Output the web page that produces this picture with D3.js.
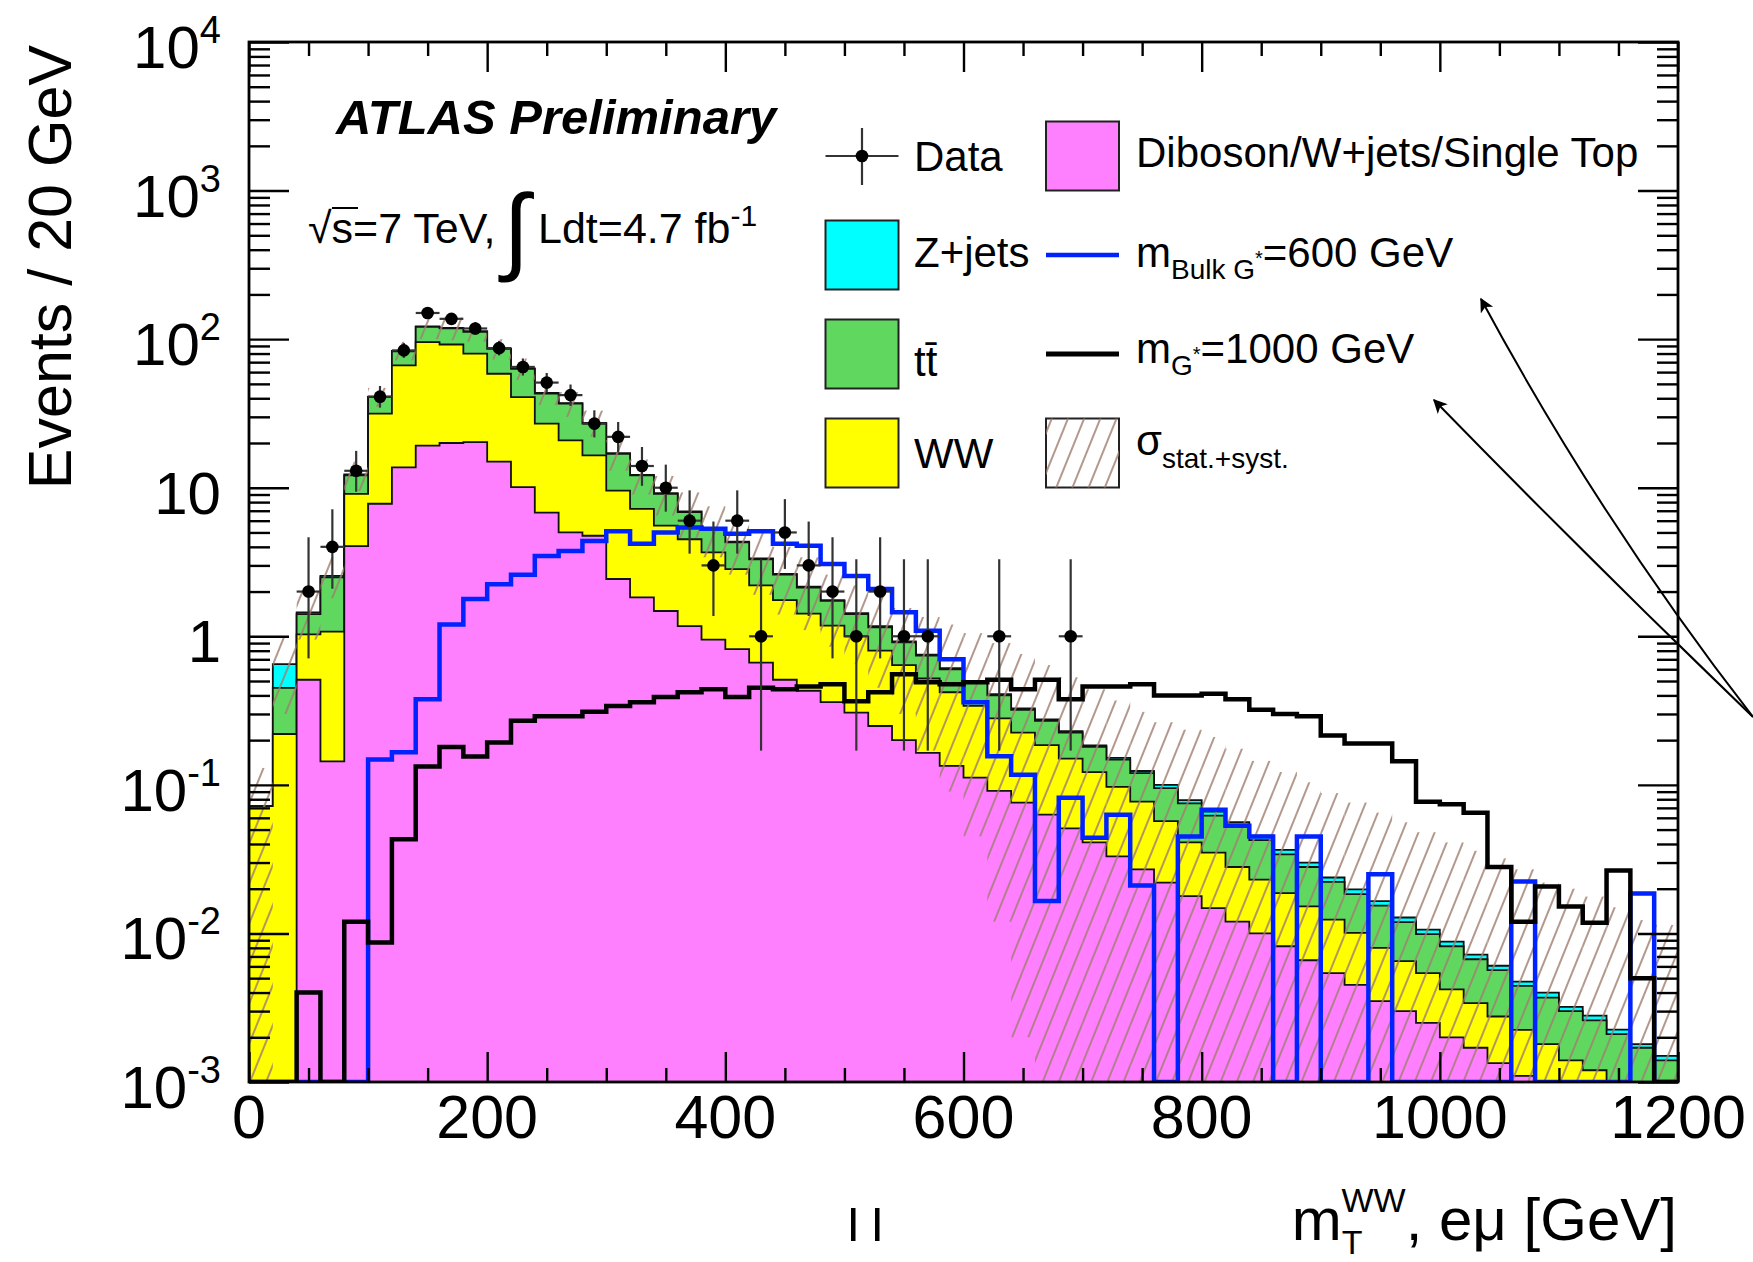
<!DOCTYPE html>
<html><head><meta charset="utf-8">
<script src="https://cdn.jsdelivr.net/npm/d3@7"></script>
<style>
body{margin:0;background:#fff}
svg{display:block}
text{font-family:"Liberation Sans",Arial,Helvetica,sans-serif;fill:#000}
</style>
</head><body>
<svg id="c" width="1753" height="1262"></svg>
<script>
// ---------------- data (20 GeV bins, 0-1200 GeV) ----------------
const binLow = d3.range(0, 1200, 20);
const diboson = [0,0,0.51,0.144,4.05,7.8,13.7,19.2,20,20.3,
  15,10.1,6.8,5.0,4.75,2.43,1.83,1.48,1.17,0.95,
  0.82,0.665,0.51,0.43,0.36,0.306,0.249,0.20,0.164,0.134,
  0.112,0.091,0.076,0.063,0.051,0.041,0.033,0.027,0.022,0.0178,
  0.0148,0.012,0.010,0.0082,0.0066,0.0054,0.0045,0.0035,0.0030,0.0025,
  0.0020,0.0017,0.00134,0.0011,0.0009,0.0007,0.0006,0.0005,0.0004,0.0003];
const ww = [0.072,0.22,0.52,0.93,5.05,23.7,52.9,76.3,72,59.7,
  43.5,30.6,20.2,15.8,11.75,7.12,5.37,4.08,3.33,2.72,
  2.01,1.535,1.24,0.99,0.82,0.694,0.551,0.44,0.356,0.286,
  0.228,0.189,0.149,0.122,0.099,0.081,0.064,0.050,0.035,0.0232,
  0.0202,0.016,0.013,0.0105,0.0086,0.0070,0.0056,0.0045,0.0035,0.0029,
  0.0022,0.0017,0.00142,0.00114,0.0009,0.0007,0.0006,0.0004,0.0003,0.0003];
const ttbar = [0,0.23,0.38,1.42,3.0,9.2,16.2,25.5,26,32,
  27.5,22.3,16,16,10.5,7.35,4.9,3.54,2.35,1.63,
  1.46,1.1,0.85,0.71,0.55,0.41,0.35,0.27,0.22,0.18,
  0.15,0.12,0.095,0.085,0.075,0.058,0.051,0.043,0.038,0.034,
  0.027,0.0245,0.0195,0.0153,0.0128,0.0098,0.0083,0.0074,0.0054,0.0045,
  0.0040,0.0033,0.0029,0.0022,0.0019,0.0016,0.0014,0.0012,0.0010,0.0008];
const zjets = [0,0.20,0.04,0.06,0.2,0.3,0.7,1.0,1.0,1.0,
  0.8,0.5,0.4,0.3,0.3,0.2,0.1,0.1,0.07,0.06,
  0.05,0.04,0.03,0.03,0.02,0.02,0.02,0.015,0.012,0.01,
  0.01,0.008,0.007,0.006,0.005,0.004,0.004,0.004,0.005,0.004,
  0.004,0.0035,0.003,0.0025,0.002,0.0016,0.0014,0.0011,0.0009,0.0007,
  0.0006,0.0005,0.0004,0.0003,0.0003,0.0002,0.0002,0.00015,0.0001,0.0001];
const bandLo = [0,0.3,0.95,1.8,9.5,35,72,100,98,96,
  73,53,36,30,22,13,9,6.5,4.6,3.4,
  2.6,1.9,1.4,1.1,0.85,0.65,0.45,0.3,0.17,0.09,
  0.045,0.012,0.002,0,0,0,0,0,0,0,
  0,0,0,0,0,0,0,0,0,0,
  0,0,0,0,0,0,0,0,0,0];
const bandHi = [0.13,1.0,2.0,3.4,15,47,96,145,140,130,
  100,74,51,44,33,21,15.5,12,9.3,7.5,
  6.2,5.0,4.0,3.4,2.6,2.2,1.85,1.55,1.35,1.2,
  1.05,0.9,0.76,0.64,0.53,0.44,0.37,0.31,0.264,0.235,
  0.21,0.175,0.145,0.122,0.104,0.088,0.076,0.065,0.056,0.048,
  0.041,0.036,0.032,0.027,0.022,0.020,0.0177,0.015,0.0123,0.0114];
const dataN = [0,0,2,4,13,41,84,150,137,118,
  87,65,51,42,27,22,14,10,6,3,
  6,1,5,3,2,1,2,1,1,0,
  0,1,0,0,1,0,0,0,0,0,
  0,0,0,0,0,0,0,0,0,0,
  0,0,0,0,0,0,0,0,0,0];
const dataLo = [0,0,0.71,2.09,9.4,34.6,74.8,137.8,125.3,107.1,
  77.7,56.9,43.9,35.5,21.8,17.3,10.3,6.9,3.6,1.37,
  3.6,0.17,2.84,1.37,0.71,0.17,0.71,0.17,0.17,0,
  0,0.17,0,0,0.17,0,0,0,0,0,
  0,0,0,0,0,0,0,0,0,0,
  0,0,0,0,0,0,0,0,0,0];
const dataHi = [0,0,4.64,7.16,17.7,48.4,94.2,163.3,149.7,129.9,
  97.4,74.1,59.2,49.5,33.2,27.7,18.8,14.3,9.6,5.92,
  9.6,3.3,8.38,5.92,4.64,3.3,4.64,3.3,3.3,0,
  0,3.3,0,0,3.3,0,0,0,0,0,
  0,0,0,0,0,0,0,0,0,0,
  0,0,0,0,0,0,0,0,0,0];
const bulk600 = [0,0,0,0,0,0.148,0.166,0.377,1.2,1.78,
  2.24,2.6,3.47,3.75,4.38,5.1,4.2,5.0,5.4,5.3,
  4.9,5.1,4.2,4.07,3.06,2.55,2.08,1.45,1.09,0.70,
  0.36,0.156,0.117,0.0165,0.082,0.044,0.063,0.021,0,0.045,
  0.068,0.053,0.045,0,0.045,0,0,0.025,0,0,
  0,0,0,0.0224,0,0,0,0,0.0186,0];
const gstar1000 = [0,0,0.004,0,0.012,0.0087,0.043,0.133,0.18,0.155,
  0.193,0.27,0.29,0.29,0.31,0.34,0.36,0.39,0.42,0.44,
  0.39,0.45,0.44,0.46,0.475,0.365,0.42,0.555,0.49,0.475,
  0.49,0.51,0.44,0.51,0.377,0.46,0.46,0.475,0.40,0.40,
  0.41,0.377,0.32,0.30,0.29,0.215,0.19,0.19,0.144,0.077,
  0.074,0.065,0.028,0.012,0.0207,0.0152,0.0118,0.0265,0.005,0];
const xTickMajor = [0,200,400,600,800,1000,1200];
const yTickMajor = [1e-3,1e-2,1e-1,1,10,1e2,1e3,1e4];
const yTickLabel = [["10","-3"],["10","-2"],["10","-1"],["1",""],["10",""],["10","2"],["10","3"],["10","4"]];

// ---------------- drawing ----------------
const svg = d3.select("#c");
svg.append("rect").attr("width",1753).attr("height",1262).attr("fill","#fff");
const PL=249, PR=1678, PT=42, PB=1082;
const x = d3.scaleLinear().domain([0,1200]).range([PL,PR]);
const y = d3.scaleLog().domain([1e-3,1e4]).range([PB,PT]);
const yv = v => v > 1e-3 ? y(Math.min(v,1e4)) : PB;

const defs = svg.append("defs");
defs.append("clipPath").attr("id","plot").append("rect")
  .attr("x",PL).attr("y",PT).attr("width",PR-PL).attr("height",PB-PT);
const hp = defs.append("pattern").attr("id","hatch").attr("patternUnits","userSpaceOnUse")
  .attr("width",15).attr("height",15).attr("patternTransform","rotate(22)");
hp.append("line").attr("x1",7).attr("y1",-2).attr("x2",7).attr("y2",17)
  .attr("stroke","#a07e70").attr("stroke-width",1.6);

const cum1 = diboson.slice();
const cum2 = cum1.map((v,i)=>v+ww[i]);
const cum3 = cum2.map((v,i)=>v+ttbar[i]);
const cum4 = cum3.map((v,i)=>v+zjets[i]);

function steps(vals){
  const pts=[];
  vals.forEach((v,i)=>{pts.push([binLow[i],v]);pts.push([binLow[i]+20,v]);});
  return pts;
}
const area = d3.area().x(d=>x(d[0])).y0(PB).y1(d=>yv(d[1]));
const line = d3.line().x(d=>x(d[0])).y(d=>yv(d[1]));

const g = svg.append("g").attr("clip-path","url(#plot)");
[[cum4,"#00ffff"],[cum3,"#60d860"],[cum2,"#ffff00"],[cum1,"#ff80ff"]].forEach(([vals,col])=>{
  g.append("path").attr("d",area(steps(vals))).attr("fill",col)
   .attr("stroke","#111").attr("stroke-width",1.8).attr("stroke-linejoin","miter");
});
// uncertainty band
g.selectAll("rect.band").data(binLow).enter().append("rect")
  .attr("x",d=>x(d)).attr("width",x(20)-x(0))
  .attr("y",(d,i)=>yv(bandHi[i]))
  .attr("height",(d,i)=>Math.max(0,yv(bandLo[i])-yv(bandHi[i])))
  .attr("fill","url(#hatch)");
// signals
g.append("path").attr("d",line(steps(bulk600))).attr("fill","none")
  .attr("stroke","#0022ff").attr("stroke-width",4.5);
g.append("path").attr("d",line(steps(gstar1000))).attr("fill","none")
  .attr("stroke","#000").attr("stroke-width",4.5);
// data
const dg = svg.append("g");
binLow.forEach((b,i)=>{
  if(dataN[i]<=0) return;
  const cx = x(b+10);
  dg.append("line").attr("x1",cx).attr("x2",cx).attr("y1",yv(dataHi[i])).attr("y2",yv(dataLo[i]))
    .attr("stroke","#333").attr("stroke-width",2.2);
  dg.append("line").attr("x1",x(b)).attr("x2",x(b+20)).attr("y1",y(dataN[i])).attr("y2",y(dataN[i]))
    .attr("stroke","#333").attr("stroke-width",2.2);
  dg.append("circle").attr("cx",cx).attr("cy",y(dataN[i])).attr("r",6.3).attr("fill","#000");
});

// axes ticks
const xMinor = d3.range(0,1201,50).filter(v=>v%200!==0);
const yMinor = [];
for(let k=-3;k<4;k++) for(let m=2;m<10;m++) yMinor.push(m*Math.pow(10,k));
function styleAxis(sel){ sel.select(".domain").remove(); sel.selectAll("line").attr("stroke","#000").attr("stroke-width",2.4); sel.selectAll("text").remove(); }
svg.append("g").attr("transform",`translate(0,${PB})`).call(d3.axisBottom(x).tickValues(xTickMajor).tickSize(-30).tickFormat("")).call(styleAxis);
svg.append("g").attr("transform",`translate(0,${PB})`).call(d3.axisBottom(x).tickValues(xMinor).tickSize(-14).tickFormat("")).call(styleAxis);
svg.append("g").attr("transform",`translate(0,${PT})`).call(d3.axisTop(x).tickValues(xTickMajor).tickSize(-30).tickFormat("")).call(styleAxis);
svg.append("g").attr("transform",`translate(0,${PT})`).call(d3.axisTop(x).tickValues(xMinor).tickSize(-14).tickFormat("")).call(styleAxis);
svg.append("g").attr("transform",`translate(${PL},0)`).call(d3.axisLeft(y).tickValues(yTickMajor).tickSize(-40).tickFormat("")).call(styleAxis);
svg.append("g").attr("transform",`translate(${PL},0)`).call(d3.axisLeft(y).tickValues(yMinor).tickSize(-21).tickFormat("")).call(styleAxis);
svg.append("g").attr("transform",`translate(${PR},0)`).call(d3.axisRight(y).tickValues(yTickMajor).tickSize(-40).tickFormat("")).call(styleAxis);
svg.append("g").attr("transform",`translate(${PR},0)`).call(d3.axisRight(y).tickValues(yMinor).tickSize(-21).tickFormat("")).call(styleAxis);
svg.append("rect").attr("x",PL).attr("y",PT).attr("width",PR-PL).attr("height",PB-PT)
  .attr("fill","none").attr("stroke","#000").attr("stroke-width",2.8);

// tick labels
xTickMajor.forEach(v=>{
  svg.append("text").attr("x",x(v)).attr("y",1138).attr("text-anchor","middle")
    .attr("font-size",61).text(v);
});
yTickMajor.forEach((v,i)=>{
  const t = svg.append("text").attr("x",221).attr("y",y(v)+26).attr("text-anchor","end").attr("font-size",60);
  t.append("tspan").text(yTickLabel[i][0]);
  if(yTickLabel[i][1]) t.append("tspan").attr("font-size",38).attr("dy",-25).text(yTickLabel[i][1]);
});
// axis titles
svg.append("text").attr("transform","translate(71,45) rotate(-90)").attr("text-anchor","end")
  .attr("font-size",61).text("Events / 20 GeV");
const xt = svg.append("text").attr("x",1677).attr("y",1240).attr("text-anchor","end").attr("font-size",60);
xt.append("tspan").text("m");
xt.append("tspan").attr("font-size",34).attr("dy",14).text("T");
xt.append("tspan").attr("font-size",34).attr("dx",-21).attr("dy",-42).text("WW");
xt.append("tspan").attr("dy",28).text(", eμ [GeV]");
// stray marks below axis
svg.append("rect").attr("x",851).attr("y",1208).attr("width",4.5).attr("height",33).attr("fill","#000");
svg.append("rect").attr("x",875).attr("y",1208).attr("width",4.5).attr("height",33).attr("fill","#000");

// ATLAS label
svg.append("text").attr("x",336).attr("y",134).attr("font-size",49).attr("font-weight","bold")
  .attr("font-style","italic").text("ATLAS Preliminary");
const st = svg.append("text").attr("x",308).attr("y",243).attr("font-size",43);
st.append("tspan").text("√s=7 TeV,");
svg.append("line").attr("x1",332).attr("x2",358).attr("y1",208).attr("y2",208).attr("stroke","#000").attr("stroke-width",2);
svg.append("text").attr("x",503).attr("y",262).attr("font-size",96).text("∫");
const lt = svg.append("text").attr("x",538).attr("y",243).attr("font-size",43);
lt.append("tspan").text("Ldt=4.7 fb");
lt.append("tspan").attr("font-size",30).attr("dy",-17).text("-1");

// legend
const rows=[156,255,354,453], c1=825.5, c2=1046, bw=73, bh=69;
function box(xx,yc,fill){
  svg.append("rect").attr("x",xx).attr("y",yc-bh/2).attr("width",bw).attr("height",bh)
    .attr("fill",fill).attr("stroke","#222").attr("stroke-width",2);
}
// Data
svg.append("line").attr("x1",c1).attr("x2",c1+bw).attr("y1",rows[0]).attr("y2",rows[0]).attr("stroke","#333").attr("stroke-width",2.2);
svg.append("line").attr("x1",c1+bw/2).attr("x2",c1+bw/2).attr("y1",rows[0]-28).attr("y2",rows[0]+29).attr("stroke","#333").attr("stroke-width",2.2);
svg.append("circle").attr("cx",c1+bw/2).attr("cy",rows[0]).attr("r",6.3).attr("fill","#000");
svg.append("text").attr("x",914).attr("y",rows[0]+15).attr("font-size",42).text("Data");
box(c2,rows[0],"#ff80ff");
svg.append("text").attr("x",1136).attr("y",rows[0]+11).attr("font-size",42).text("Diboson/W+jets/Single Top");
box(c1,rows[1],"#00ffff");
svg.append("text").attr("x",914).attr("y",rows[1]+12).attr("font-size",42).text("Z+jets");
svg.append("line").attr("x1",c2).attr("x2",c2+bw).attr("y1",rows[1]).attr("y2",rows[1]).attr("stroke","#0022ff").attr("stroke-width",4.5);
const lb = svg.append("text").attr("x",1136).attr("y",rows[1]+12).attr("font-size",42);
lb.append("tspan").text("m");
lb.append("tspan").attr("font-size",28).attr("dy",12).text("Bulk G");
lb.append("tspan").attr("font-size",20).attr("dy",-14).text("*");
lb.append("tspan").attr("dy",2).text("=600 GeV");
box(c1,rows[2],"#60d860");
svg.append("text").attr("x",914).attr("y",rows[2]+22).attr("font-size",42).text("tt\u0304");
svg.append("line").attr("x1",c2).attr("x2",c2+bw).attr("y1",rows[2]).attr("y2",rows[2]).attr("stroke","#000").attr("stroke-width",5);
const lg = svg.append("text").attr("x",1136).attr("y",rows[2]+9).attr("font-size",42);
lg.append("tspan").text("m");
lg.append("tspan").attr("font-size",28).attr("dy",12).text("G");
lg.append("tspan").attr("font-size",20).attr("dy",-14).text("*");
lg.append("tspan").attr("dy",2).text("=1000 GeV");
box(c1,rows[3],"#ffff00");
svg.append("text").attr("x",914).attr("y",rows[3]+15).attr("font-size",42).text("WW");
box(c2,rows[3],"#fff");
svg.append("rect").attr("x",c2).attr("y",rows[3]-bh/2).attr("width",bw).attr("height",bh).attr("fill","url(#hatch)");
const ls = svg.append("text").attr("x",1136).attr("y",rows[3]+2).attr("font-size",42);
ls.append("tspan").text("σ");
ls.append("tspan").attr("font-size",28).attr("dy",13).text("stat.+syst.");

// arrows
defs.append("marker").attr("id","ah").attr("viewBox","0 0 10 10").attr("refX",9).attr("refY",5)
  .attr("markerWidth",18).attr("markerHeight",14).attr("markerUnits","userSpaceOnUse").attr("orient","auto")
  .append("path").attr("d","M0,0 L10,5 L0,10 L2.5,5 Z").attr("fill","#000");
svg.append("path").attr("d","M1753,717 Q1600,520 1481,299").attr("fill","none").attr("stroke","#000").attr("stroke-width",2).attr("marker-end","url(#ah)");
svg.append("path").attr("d","M1753,717 Q1590,560 1434,400").attr("fill","none").attr("stroke","#000").attr("stroke-width",2).attr("marker-end","url(#ah)");
</script>
</body></html>
